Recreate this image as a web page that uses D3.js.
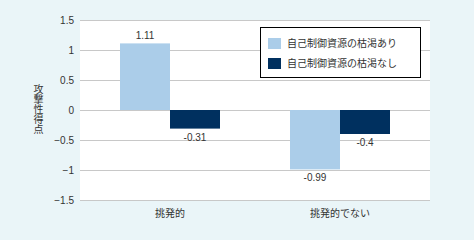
<!DOCTYPE html>
<html>
<head>
<meta charset="utf-8">
<script src="https://cdn.jsdelivr.net/npm/d3@7"></script>
<style>
  body { margin: 0; background: #eaf5f8; }
  #chart { position: relative; width: 474px; height: 240px; }
  svg { display: block; font-family: "Noto Sans CJK JP", "DejaVu Sans", sans-serif; }
  .ytitle {
    position: absolute;
    left: 33px; top: 84px;
    font-family: "Noto Sans CJK JP", sans-serif;
    font-size: 10px;
    line-height: 10px;
    color: #333;
    writing-mode: vertical-rl;
    text-orientation: upright;
  }
</style>
</head>
<body>
<div id="chart"></div>
<script>
// data
const categories = ["挑発的", "挑発的でない"];
const seriesNames = ["自己制御資源の枯渇あり", "自己制御資源の枯渇なし"];
const depleted = [1.11, -0.99];
const notDepleted = [-0.31, -0.4];
const yTicks = [1.5, 1, 0.5, 0, -0.5, -1, -1.5];
const colors = ["#abcde9", "#00305f"];

const W = 474, H = 240;
const margin = { top: 20, right: 44, bottom: 40, left: 80 };
const width = W - margin.left - margin.right;
const height = H - margin.top - margin.bottom;

const svg = d3.select("#chart").append("svg")
    .attr("width", W)
    .attr("height", H);

const g = svg.append("g")
    .attr("transform", "translate(" + margin.left + "," + margin.top + ")");

// plot background
g.append("rect")
    .attr("width", width)
    .attr("height", height)
    .attr("fill", "#fff");

// groups sit a bit inward from the band centres
const x0 = d3.scaleBand().domain(categories).range([0, width]).paddingInner(0).paddingOuter(5 / 170);
const x1 = d3.scaleBand().domain([0, 1]).range([0, 100]);
const y = d3.scaleLinear().domain([-1.5, 1.5]).range([height, 0]);

// gridlines
g.selectAll(".grid").data(yTicks).enter().append("line")
    .attr("x1", 0).attr("x2", width)
    .attr("y1", d => y(d)).attr("y2", d => y(d))
    .attr("stroke", "#c8c8c8")
    .attr("stroke-width", 1)
    .attr("shape-rendering", "crispEdges");

// y axis labels
const yAxis = g.append("g").call(d3.axisLeft(y).tickValues(yTicks).tickSize(0).tickPadding(6).tickFormat(d => d3.format("")(d)));
yAxis.select(".domain").remove();
yAxis.selectAll("text").attr("font-size", 10).attr("fill", "#333")
    .attr("font-family", "Liberation Sans, Arial, sans-serif");

// x axis labels
const xAxis = g.append("g").attr("transform", "translate(0," + height + ")")
    .call(d3.axisBottom(x0).tickSize(0).tickPadding(10));
xAxis.select(".domain").remove();
xAxis.selectAll("text").attr("font-size", 10).attr("fill", "#333")
    .attr("font-family", "Noto Sans CJK JP, sans-serif");

// bars
const rows = categories.map((c, i) => ({ cat: c, vals: [depleted[i], notDepleted[i]] }));
const groups = g.selectAll(".grp").data(rows).enter().append("g")
    .attr("transform", d => "translate(" + (x0(d.cat) + x0.bandwidth() / 2 - 50) + ",0)");

groups.selectAll("rect").data(d => d.vals).enter().append("rect")
    .attr("x", (d, i) => x1(i))
    .attr("width", x1.bandwidth())
    .attr("y", d => y(Math.max(0, d)))
    .attr("height", d => Math.abs(y(d) - y(0)))
    .attr("fill", (d, i) => colors[i]);

groups.selectAll(".lbl").data(d => d.vals).enter().append("text")
    .attr("x", (d, i) => x1(i) + x1.bandwidth() / 2)
    .attr("y", d => d >= 0 ? y(d) - 4 : y(d) + 12)
    .attr("text-anchor", "middle")
    .attr("font-size", 10)
    .attr("fill", "#333")
    .attr("font-family", "Liberation Sans, Arial, sans-serif")
    .text(d => d);

// y axis title, vertical (html so the glyphs stack upright)
d3.select("#chart").append("div")
    .attr("class", "ytitle")
    .text("攻撃性得点");

// legend
const legend = svg.append("g").attr("transform", "translate(260,27)");
legend.append("rect")
    .attr("x", 0.5).attr("y", 0.5)
    .attr("width", 160).attr("height", 50)
    .attr("fill", "#fff")
    .attr("stroke", "#000")
    .attr("stroke-width", 1);
seriesNames.forEach((s, i) => {
    legend.append("rect")
        .attr("x", 8).attr("y", 11 + i * 20)
        .attr("width", 13).attr("height", 11)
        .attr("fill", colors[i]);
    legend.append("text")
        .attr("x", 27).attr("y", 20 + i * 20)
        .attr("font-size", 10)
        .attr("fill", "#333")
        .text(s);
});
</script>
</body>
</html>
